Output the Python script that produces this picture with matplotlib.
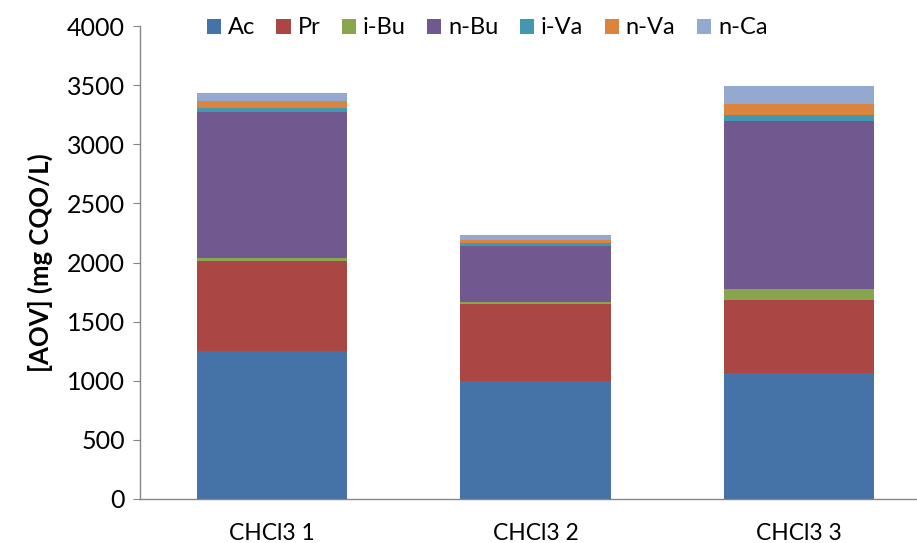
import numpy as np
import matplotlib.pyplot as plt
from matplotlib.patches import Patch

plt.rcParams['font.family'] = ['Lato', 'DejaVu Sans']

# donnees
categories = ['CHCl3 1', 'CHCl3 2', 'CHCl3 3']
acids = ['Ac', 'Pr', 'i-Bu', 'n-Bu', 'i-Va', 'n-Va', 'n-Ca']
ac = [1250, 995, 1065]
pr = [765, 657, 620]
i_bu = [20, 14, 88]
n_bu = [1240, 476, 1426]
i_va = [34, 20, 51]
n_va = [60, 31, 93]
n_ca = [65, 40, 150]
y_ticks = [0, 500, 1000, 1500, 2000, 2500, 3000, 3500, 4000]

colors = ['#4572A7', '#AA4643', '#89A54E', '#71588F', '#4198AF', '#DB843D', '#93A9CF']
series = [ac, pr, i_bu, n_bu, i_va, n_va, n_ca]

fig = plt.figure(figsize=(9.17, 5.43), dpi=100)
ax = fig.add_axes([140 / 917, 44 / 543, 791 / 917, 473 / 543])

x = np.arange(len(categories))
bottom = np.zeros(len(categories))
for vals, c in zip(series, colors):
    ax.bar(x, vals, width=0.57, bottom=bottom, color=c, edgecolor='none')
    bottom += np.array(vals)

ax.set_xlim(-0.5, 2.5)
ax.set_ylim(0, 4000)
ax.set_yticks(y_ticks)
ax.set_xticks(x)
ax.set_xticklabels(categories, fontsize=16.5)
ax.tick_params(axis='x', length=0, pad=17)
ax.tick_params(axis='y', labelsize=18, length=5, color='#868686', pad=6)

for s in ['top', 'right']:
    ax.spines[s].set_visible(False)
for s in ['left', 'bottom']:
    ax.spines[s].set_color('#868686')
    ax.spines[s].set_linewidth(1)

ax.set_ylabel('[AOV] (mg CQO/L)', fontsize=18.5, fontweight='bold', labelpad=10)

handles = [Patch(facecolor=c, edgecolor='none') for c in colors]
fig.legend(handles, acids, loc='center', bbox_to_anchor=(487 / 917, 1 - 28 / 543),
           ncol=7, frameon=False, fontsize=17, handlelength=0.6, handleheight=0.6,
           handletextpad=0.3, columnspacing=0.9)

fig.savefig('out.png', dpi=100)
